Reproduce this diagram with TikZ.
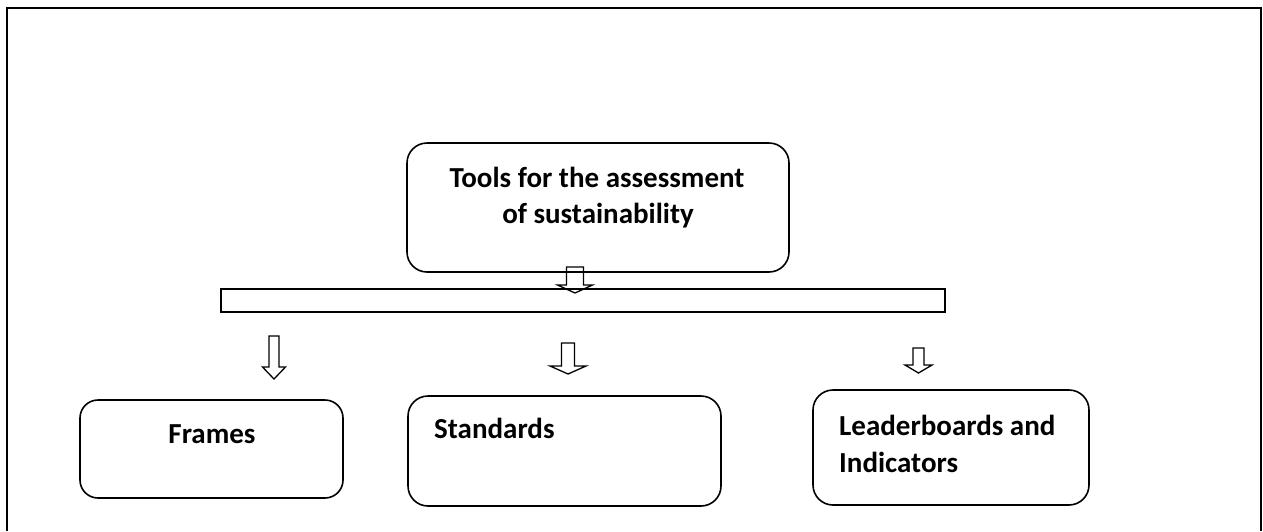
\documentclass[tikz,border=0pt]{standalone}
\usepackage{fontspec}
\setmainfont{Carlito}
\begin{document}
% coordinates are in points, y grows downwards
\begin{tikzpicture}[x=1pt,y=-1pt,
  roundbox/.style={draw=black,line width=1.6pt,rounded corners=20pt},
  barbox/.style={draw=black,line width=2pt},
  blockarrow/.style={draw=black,line width=1.3pt,line join=miter},
  txt/.style={inner sep=0pt,font=\fontsize{29}{36}\selectfont\bfseries},
  frameline/.style={draw=black,line width=2.4pt}]
\useasboundingbox (0,0) rectangle (1263,531);

% outer frame, open at the bottom
\coordinate (fbl) at (7,531);
\coordinate (ftl) at (7,8);
\coordinate (ftr) at (1261,8);
\coordinate (fbr) at (1261,531);
\draw[frameline] (fbl) -- (ftl) -- (ftr) -- (fbr);

% hollow downward block arrow: x, top, head start, tip, shaft half width, head half width
\newcommand\downblock[6]{%
  \draw[blockarrow] (#1-#5,#2) -- (#1+#5,#2) -- (#1+#5,#3) -- (#1+#6,#3)
    -- (#1,#4) -- (#1-#6,#3) -- (#1-#5,#3) -- cycle;}

% main box
\draw[roundbox] (407,143) rectangle (789,272);
\node[txt,anchor=base] (t1) at (597,187) {Tools for the assessment};
\node[txt,anchor=base] (t2) at (598,223) {of sustainability};

% horizontal bar
\draw[barbox] (221,289) rectangle (945,312);

% arrow from main box into the bar
\downblock{575}{267}{285}{293}{8.5}{17.5}

% arrows from the bar to the three categories
\downblock{274}{336}{367}{379}{5}{11.5}
\downblock{568}{343}{366}{374}{6.5}{18}
\downblock{918.5}{348}{365}{373}{5.5}{13.5}

% category boxes
\draw[roundbox,rounded corners=18pt] (80,400) rectangle (343,498);
\node[txt,anchor=base] (fr) at (212,443) {Frames};

\draw[roundbox] (408,396) rectangle (721,506);
\node[txt,anchor=base west] (st) at (434,438) {Standards};

\draw[roundbox] (813,390) rectangle (1089,505);
\node[txt,anchor=base west] (lb1) at (839,435) {Leaderboards and};
\node[txt,anchor=base west] (lb2) at (839,472) {Indicators};
\end{tikzpicture}
\end{document}
